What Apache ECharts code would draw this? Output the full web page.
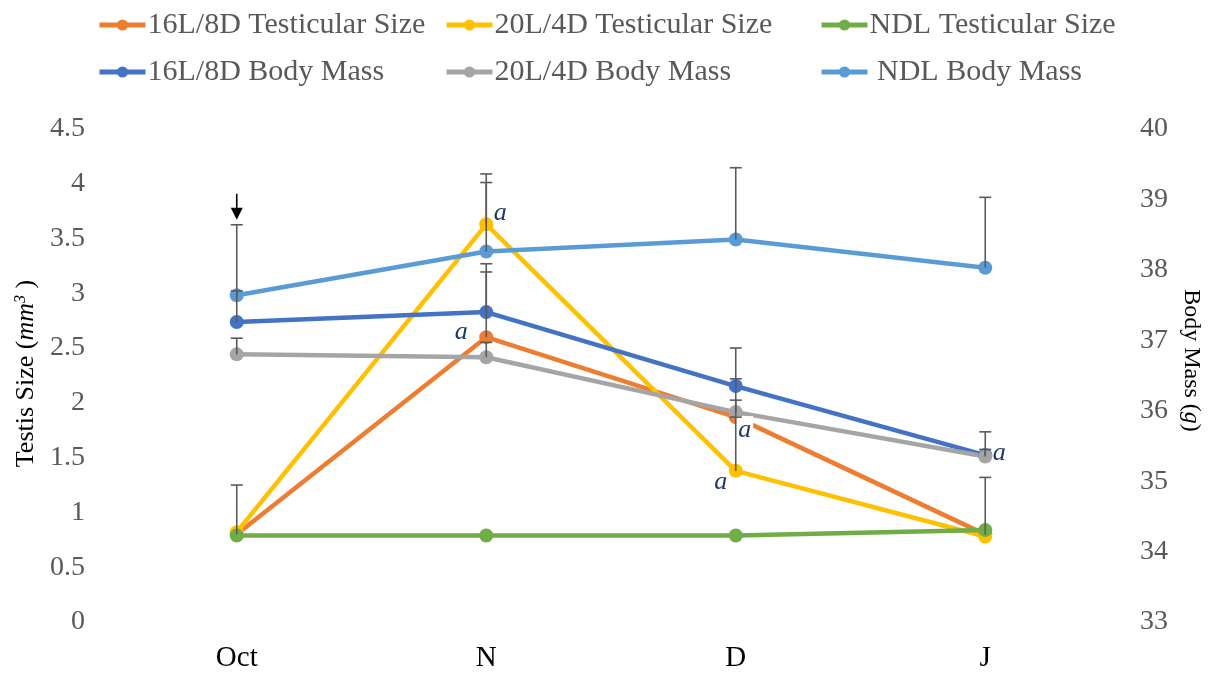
<!DOCTYPE html>
<html>
<head>
<meta charset="utf-8">
<script src="https://cdn.jsdelivr.net/npm/echarts@6/dist/echarts.min.js"></script>
<style>
  html, body { margin: 0; padding: 0; background: #ffffff; }
  #chart { width: 1214px; height: 673px; }
</style>
</head>
<body>
<div id="chart"></div>
<script>
// Sampling months
const months = ['Oct', 'N', 'D', 'J'];

// Testicular size (mm^3), left axis
const testis16L8D = [0.80, 2.60, 1.87, 0.80];
const testis20L4D = [0.82, 3.63, 1.38, 0.78];
const testisNDL   = [0.79, 0.79, 0.79, 0.84];

// Body mass (g), right axis
const mass16L8D = [37.26, 37.40, 36.35, 35.37];
const mass20L4D = [36.80, 36.76, 35.98, 35.35];
const massNDL   = [37.64, 38.26, 38.43, 38.03];

// Upper error bars (null where none is drawn)
const testis16L8DErr = [0.45, 0.67, 0.35, 0.52];
const testis20L4DErr = [null, 0.46, 0.49, null];
const mass16L8DErr   = [0.44, 0.57, 0.54, 0.33];
const mass20L4DErr   = [0.23, 0.21, 0.17, 0.10];
const massNDLErr     = [1.00, 0.98, 1.02, 1.00];

// Axis ranges
const testisAxis = { min: 0, max: 4.5, interval: 0.5 };
const massAxis   = { min: 33, max: 40, interval: 1 };

const SERIF = '"Liberation Serif", "Times New Roman", serif';

const seriesDefs = [
  { name: '16L/8D Testicular Size', color: '#ED7D31', axis: 0, data: testis16L8D, err: testis16L8DErr },
  { name: '20L/4D Testicular Size', color: '#FFC000', axis: 0, data: testis20L4D, err: testis20L4DErr },
  { name: 'NDL Testicular Size',    color: '#70AD47', axis: 0, data: testisNDL,   err: null },
  { name: '16L/8D Body Mass',       color: '#4472C4', axis: 1, data: mass16L8D,   err: mass16L8DErr },
  { name: '20L/4D Body Mass',       color: '#A5A5A5', axis: 1, data: mass20L4D,   err: mass20L4DErr },
  { name: 'NDL Body Mass',          color: '#5B9BD5', axis: 1, data: massNDL,     err: massNDLErr }
];

// Significance letters placed beside points
const sigMarks = [
  { series: '20L/4D Testicular Size', month: 'N', offset: [14, -11] },
  { series: '16L/8D Testicular Size', month: 'N', offset: [-25, -5] },
  { series: '16L/8D Testicular Size', month: 'D', offset: [9, 13], boxed: true },
  { series: '20L/4D Testicular Size', month: 'D', offset: [-15, 11] },
  { series: '20L/4D Body Mass',       month: 'J', offset: [14, -3] }
];

function sigLabel(mark) {
  return {
    show: true,
    position: 'inside',
    offset: mark.offset,
    formatter: 'a',
    fontFamily: SERIF,
    fontStyle: 'italic',
    fontSize: 26,
    color: '#1F3864',
    backgroundColor: mark.boxed ? '#ffffff' : 'transparent',
    padding: mark.boxed ? [0, 2, 2, 2] : 0
  };
}

function errorBarItem(params, api) {
  const x = api.value(0);
  const v = api.value(1);
  const e = api.value(2);
  const p0 = api.coord([x, v]);
  const p1 = api.coord([x, v + e]);
  const style = { stroke: '#5a5a5a', lineWidth: 1.6 };
  return {
    type: 'group',
    children: [
      { type: 'line', shape: { x1: p0[0], y1: p0[1], x2: p1[0], y2: p1[1] }, style: style },
      { type: 'line', shape: { x1: p1[0] - 6, y1: p1[1], x2: p1[0] + 6, y2: p1[1] }, style: style }
    ]
  };
}

// Down arrow drawn above the NDL body-mass error bar in October
function arrowItem(params, api) {
  const p = api.coord([api.value(0), api.value(1)]);
  const x = p[0], y = p[1];
  return {
    type: 'group',
    children: [
      { type: 'line', shape: { x1: x, y1: y - 31, x2: x, y2: y - 16 }, style: { stroke: '#000', lineWidth: 1.6 } },
      { type: 'polygon', shape: { points: [[x - 6, y - 17], [x + 6, y - 17], [x, y - 5]] }, style: { fill: '#000' } }
    ]
  };
}

const series = [];
seriesDefs.forEach(function (d) {
  series.push({
    name: d.name,
    type: 'line',
    yAxisIndex: d.axis,
    symbol: 'circle',
    symbolSize: 14,
    lineStyle: { width: 4.5, color: d.color },
    itemStyle: { color: d.color },
    data: d.data.map(function (v, i) {
      const mark = sigMarks.find(function (m) { return m.series === d.name && m.month === months[i]; });
      return mark ? { value: v, label: sigLabel(mark) } : v;
    }),
    z: 2
  });
});

seriesDefs.forEach(function (d) {
  if (!d.err) return;
  const pts = [];
  d.err.forEach(function (e, i) { if (e != null) pts.push([i, d.data[i], e]); });
  series.push({
    name: d.name + ' error',
    type: 'custom',
    yAxisIndex: d.axis,
    renderItem: errorBarItem,
    data: pts,
    silent: true,
    z: 4
  });
});

series.push({
  name: 'arrow',
  type: 'custom',
  yAxisIndex: 1,
  renderItem: arrowItem,
  data: [[0, massNDL[0] + massNDLErr[0]]],
  silent: true,
  z: 5
});

// Legend laid out as two rows of three entries
const legendCols = [92, 439, 814];
const legendRows = [5, 52];
const legends = seriesDefs.map(function (d, i) {
  const col = i % 3, row = Math.floor(i / 3);
  return {
    data: [d.name],
    left: legendCols[col],
    top: legendRows[row],
    itemWidth: 46,
    itemHeight: 14,
    itemGap: 0,
    lineStyle: { width: 5 },
    formatter: d.name === 'NDL Body Mass' ? ' {name}' : '{name}',
    textStyle: { fontFamily: SERIF, fontSize: 30, color: '#595959', padding: [0, 0, 0, -3] }
  };
});

const chart = echarts.init(document.getElementById('chart'), null, { renderer: 'canvas' });
chart.setOption({
  backgroundColor: '#ffffff',
  animation: false,
  legend: legends,
  grid: { left: 112, right: 104, top: 129, bottom: 49, containLabel: false },
  xAxis: {
    type: 'category',
    data: months,
    boundaryGap: true,
    axisLine: { show: false },
    axisTick: { show: false },
    axisLabel: { fontFamily: SERIF, fontSize: 29, color: '#000000', margin: 22 },
    splitLine: { show: false }
  },
  yAxis: [
    {
      type: 'value',
      min: testisAxis.min, max: testisAxis.max, interval: testisAxis.interval,
      position: 'left',
      axisLine: { show: false },
      axisTick: { show: false },
      splitLine: { show: false },
      axisLabel: { fontFamily: SERIF, fontSize: 28, color: '#595959', margin: 27 },
      name: '{t|Testis Size (}{i|mm}{s|3}{t| )}',
      nameLocation: 'middle',
      nameRotate: 90,
      nameGap: 72,
      nameTextStyle: {
        fontFamily: SERIF, fontSize: 26, color: '#000000',
        padding: [0, 0, 0, 4],
        rich: {
          t: { fontFamily: SERIF, fontSize: 26, color: '#000000' },
          i: { fontFamily: SERIF, fontSize: 26, color: '#000000', fontStyle: 'italic' },
          s: { fontFamily: SERIF, fontSize: 16, color: '#000000', fontStyle: 'italic', verticalAlign: 'top' }
        }
      }
    },
    {
      type: 'value',
      min: massAxis.min, max: massAxis.max, interval: massAxis.interval,
      position: 'right',
      axisLine: { show: false },
      axisTick: { show: false },
      splitLine: { show: false },
      axisLabel: { fontFamily: SERIF, fontSize: 28, color: '#595959', margin: 30 },
      name: '{t|Body Mass (}{i|g}{t|)}',
      nameLocation: 'middle',
      nameRotate: -90,
      nameGap: 68,
      nameTextStyle: {
        fontFamily: SERIF, fontSize: 24, color: '#000000',
        padding: [0, 30, 0, 0],
        rich: {
          t: { fontFamily: SERIF, fontSize: 24, color: '#000000' },
          i: { fontFamily: SERIF, fontSize: 24, color: '#000000', fontStyle: 'italic' }
        }
      }
    }
  ],
  series: series
});
</script>
</body>
</html>
